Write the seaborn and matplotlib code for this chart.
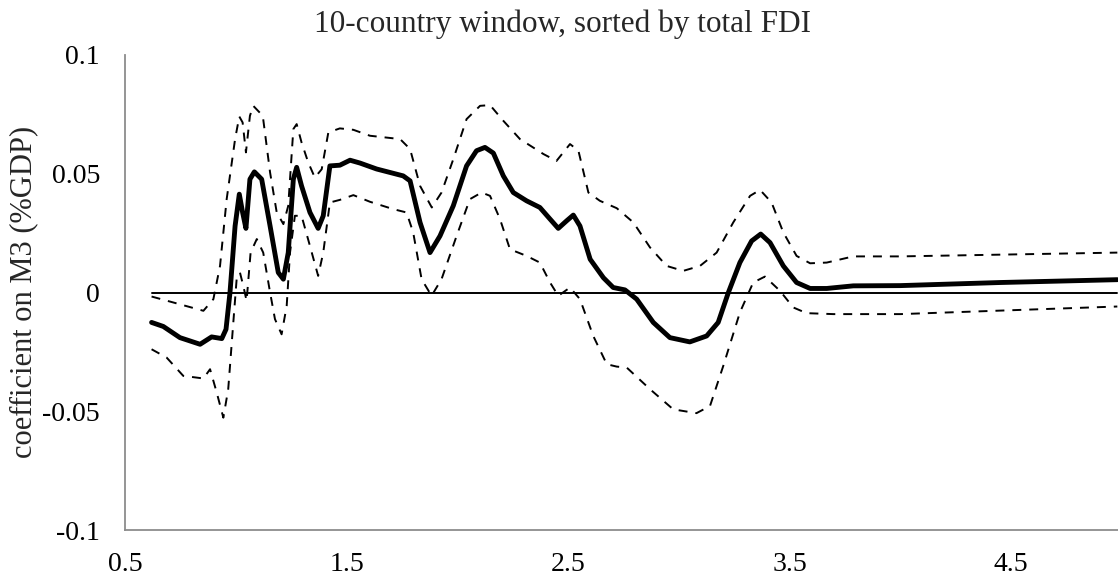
import matplotlib
matplotlib.use("Agg")
import matplotlib.pyplot as plt
import seaborn as sns
import numpy as np

sns.set_theme(style="white")
plt.rcParams['font.family'] = ['Liberation Serif', 'DejaVu Serif']

# Point estimate (solid line)
coef_x = [0.62, 0.673, 0.748, 0.839, 0.891, 0.937, 0.956, 0.974, 0.997, 1.016, 1.031, 1.046,
          1.064, 1.084, 1.117, 1.155, 1.192, 1.215, 1.237, 1.26, 1.275, 1.297, 1.335, 1.372,
          1.395, 1.425, 1.47, 1.516, 1.561, 1.636, 1.756, 1.787, 1.832, 1.877, 1.922, 1.982,
          2.042, 2.087, 2.125, 2.163, 2.208, 2.253, 2.313, 2.373, 2.419, 2.456, 2.494, 2.524,
          2.554, 2.6, 2.66, 2.704, 2.757, 2.81, 2.885, 2.96, 3.05, 3.126, 3.178, 3.224, 3.276,
          3.329, 3.37, 3.412, 3.472, 3.532, 3.593, 3.668, 3.788, 4.0, 4.45, 4.98]
coef_y = [-0.0126, -0.0143, -0.019, -0.0218, -0.0187, -0.0194, -0.0155, 0.0, 0.028, 0.0414,
          0.0337, 0.027, 0.0477, 0.0508, 0.0477, 0.028, 0.0084, 0.0056, 0.0168, 0.0477, 0.0527,
          0.0449, 0.0337, 0.027, 0.0323, 0.0533, 0.0536, 0.0557, 0.0545, 0.052, 0.0491, 0.047,
          0.0295, 0.0168, 0.0238, 0.0365, 0.0533, 0.0597, 0.0611, 0.0587, 0.0491, 0.0421,
          0.0386, 0.0358, 0.0309, 0.027, 0.0302, 0.0326, 0.028, 0.014, 0.0062, 0.0021, 0.0011,
          -0.0028, -0.0126, -0.019, -0.0208, -0.0183, -0.0126, 0.0, 0.0126, 0.0217, 0.0246,
          0.021, 0.0112, 0.0042, 0.0017, 0.0017, 0.0028, 0.0029, 0.0042, 0.0054]

# Upper confidence band (dashed)
upper_x = [0.62, 0.718, 0.854, 0.899, 0.929, 0.959, 0.997, 1.016, 1.031, 1.046, 1.064, 1.079,
           1.122, 1.155, 1.185, 1.215, 1.237, 1.26, 1.275, 1.297, 1.327, 1.357, 1.388, 1.418,
           1.47, 1.531, 1.606, 1.742, 1.787, 1.832, 1.885, 1.929, 1.982, 2.042, 2.103, 2.148,
           2.208, 2.283, 2.389, 2.448, 2.509, 2.547, 2.592, 2.644, 2.72, 2.795, 2.87, 2.945,
           3.02, 3.096, 3.171, 3.246, 3.322, 3.367, 3.419, 3.472, 3.532, 3.593, 3.668, 3.788,
           4.0, 4.98]
upper_y = [-0.0017, -0.0042, -0.0077, -0.0028, 0.0112, 0.0393, 0.0646, 0.0741, 0.0716, 0.059,
           0.0744, 0.0786, 0.0744, 0.0505, 0.0337, 0.0288, 0.0365, 0.0688, 0.0709, 0.0632,
           0.0548, 0.0484, 0.0519, 0.0674, 0.0691, 0.0685, 0.066, 0.0646, 0.0604, 0.0449,
           0.0358, 0.0421, 0.0561, 0.073, 0.0786, 0.0789, 0.0723, 0.0646, 0.0583, 0.0554,
           0.0625, 0.0597, 0.0421, 0.0386, 0.0355, 0.0295, 0.019, 0.0112, 0.0091, 0.0112,
           0.0168, 0.0295, 0.0407, 0.0432, 0.0379, 0.0253, 0.0154, 0.0123, 0.0126, 0.0152,
           0.0152, 0.0168]

# Lower confidence band (dashed)
lower_x = [0.62, 0.688, 0.763, 0.854, 0.884, 0.914, 0.944, 0.966, 0.989, 1.004, 1.019, 1.034,
           1.049, 1.067, 1.095, 1.124, 1.155, 1.177, 1.207, 1.23, 1.245, 1.267, 1.297, 1.335,
           1.372, 1.395, 1.425, 1.47, 1.531, 1.606, 1.711, 1.771, 1.801, 1.839, 1.884, 1.929,
           1.997, 2.057, 2.11, 2.148, 2.193, 2.238, 2.313, 2.373, 2.419, 2.456, 2.509, 2.554,
           2.614, 2.675, 2.72, 2.765, 2.87, 2.975, 3.08, 3.141, 3.201, 3.276, 3.336, 3.389,
           3.457, 3.517, 3.577, 3.698, 4.0, 4.98]
lower_y = [-0.0239, -0.0274, -0.0351, -0.0362, -0.0323, -0.0421, -0.0527, -0.0407, -0.0126,
           0.0056, 0.0084, 0.0028, -0.0035, 0.0168, 0.0225, 0.0168, 0.0, -0.0112, -0.0176,
           -0.0056, 0.0168, 0.0323, 0.0323, 0.0196, 0.007, 0.0168, 0.0379, 0.039, 0.041,
           0.0382, 0.0351, 0.0337, 0.0253, 0.0056, -0.0014, 0.0056, 0.0238, 0.0393, 0.0421,
           0.0407, 0.0309, 0.0182, 0.0154, 0.0126, 0.0042, -0.0014, 0.0021, -0.0028, -0.0183,
           -0.0302, -0.0312, -0.0316, -0.0407, -0.0492, -0.0508, -0.0478, -0.0309, -0.0084,
           0.0042, 0.0067, 0.0007, -0.0063, -0.0087, -0.0091, -0.0091, -0.0059]

zero_x = [0.62, 4.98]
zero_y = [0.0, 0.0]

x_ticks = [0.5, 1.5, 2.5, 3.5, 4.5]
x_ticklabels = ["0.5", "1.5", "2.5", "3.5", "4.5"]
y_ticks = [-0.1, -0.05, 0.0, 0.05, 0.1]
y_ticklabels = ["-0.1", "-0.05", "0", "0.05", "0.1"]

W, H = 1118, 577
fig = plt.figure(figsize=(W / 100, H / 100), dpi=100)
ax = fig.add_axes([125 / W, (H - 530) / H, (1118 - 125) / W, (530 - 55) / H])

dash = (0, (4.6, 4.1))
sns.lineplot(x=zero_x, y=zero_y, ax=ax, color="black", linewidth=1.4)
sns.lineplot(x=upper_x, y=upper_y, ax=ax, color="black", linewidth=1.4, linestyle=dash)
sns.lineplot(x=lower_x, y=lower_y, ax=ax, color="black", linewidth=1.4, linestyle=dash)
sns.lineplot(x=coef_x, y=coef_y, ax=ax, color="black", linewidth=3.5)

ax.set_xlim(0.5, 4.983)
ax.set_ylim(-0.1, 0.1)
ax.set_xticks(x_ticks)
ax.set_xticklabels(x_ticklabels)
ax.set_yticks(y_ticks)
ax.set_yticklabels(y_ticklabels)

for s in ["top", "right"]:
    ax.spines[s].set_visible(False)
for s in ["left", "bottom"]:
    ax.spines[s].set_color("#8c8c8c")
    ax.spines[s].set_linewidth(1.3)

ax.tick_params(axis="both", direction="in", length=6, width=1.0, color="#8c8c8c",
               labelsize=20, labelcolor="black")
ax.tick_params(axis="x", pad=15.5)
ax.tick_params(axis="y", pad=18)

ax.set_ylabel("")
ax.set_xlabel("")
fig.text(24 / W, 1 - 292 / H, "coefficient on M3 (%GDP)", fontsize=22, rotation=90,
         ha="center", va="center")
fig.text(562 / W, 1 - 32 / H, "10-country window, sorted by total FDI", fontsize=22.5,
         ha="center", va="baseline")

fig.savefig("out.png", dpi=100)
